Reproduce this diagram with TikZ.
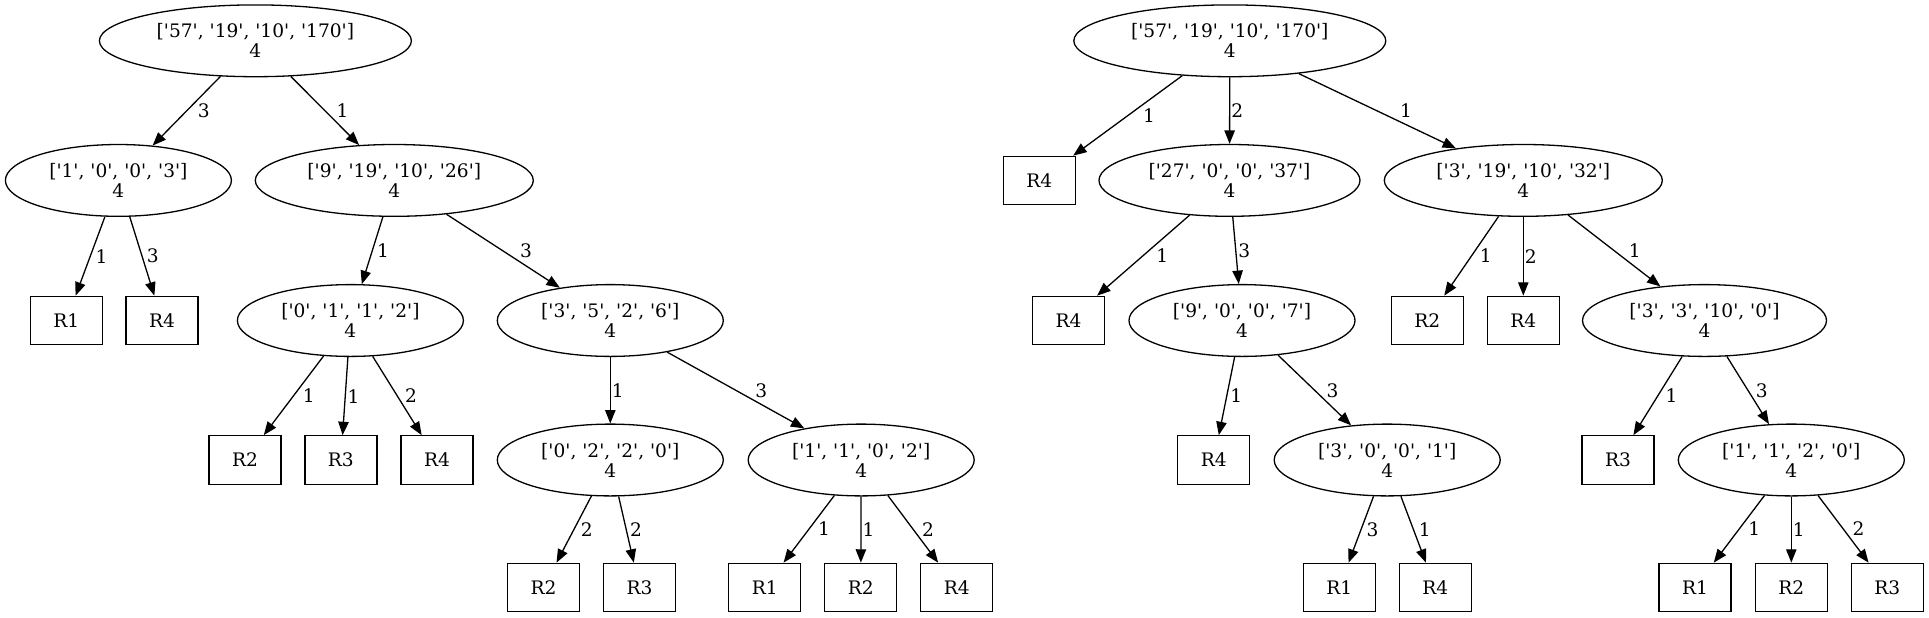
\documentclass[tikz,border=0pt]{standalone}
\usepackage{fontspec}
\setmainfont{DejaVu Serif}[Ligatures=TeXOff]
\usetikzlibrary{shapes.geometric,arrows.meta}
\begin{document}
\begin{tikzpicture}[x=0.5pt,y=-0.5pt,
  every node/.style={font=\fontsize{9.3}{10}\selectfont},
  ell/.style={draw, ellipse, inner sep=0pt, minimum height=35.9pt, align=center, line width=0.65pt},
  leaf/.style={draw, rectangle, inner sep=0pt, minimum width=36pt, minimum height=24.2pt, line width=0.65pt},
  arr/.style={line width=0.65pt, -{Triangle[length=6.7pt,width=5.2pt]}},
  lbl/.style={anchor=west, inner sep=0.5pt}]
\useasboundingbox (0,0) rectangle (1929,617);
% left tree
\node[ell, minimum width=156pt] (a) at (255.4,40.8) {['57', '19', '10', '170']\\4};
\node[ell, minimum width=113pt] (b) at (118.4,180.4) {['1', '0', '0', '3']\\4};
\node[ell, minimum width=139pt] (c) at (394.3,180.4) {['9', '19', '10', '26']\\4};
\node[leaf] (r1a) at (66.4,320.5) {R1};
\node[leaf] (r4a) at (162.1,320.5) {R4};
\node[ell, minimum width=113pt] (d) at (350.4,320.5) {['0', '1', '1', '2']\\4};
\node[ell, minimum width=113pt] (e) at (610.3,320.5) {['3', '5', '2', '6']\\4};
\node[leaf] (r2b) at (245,460) {R2};
\node[leaf] (r3b) at (340.9,460) {R3};
\node[leaf] (r4b) at (437.1,460) {R4};
\node[ell, minimum width=113pt] (f) at (610.3,460) {['0', '2', '2', '0']\\4};
\node[ell, minimum width=113pt] (g) at (861.2,460) {['1', '1', '0', '2']\\4};
\node[leaf] (r2c) at (543.5,587.5) {R2};
\node[leaf] (r3c) at (639.5,587.5) {R3};
\node[leaf] (r1c) at (764.8,587.5) {R1};
\node[leaf] (r2d) at (860.8,587.5) {R2};
\node[leaf] (r4d) at (956.8,587.5) {R4};
% right tree
\node[ell, minimum width=156pt] (a2) at (1229.8,40.8) {['57', '19', '10', '170']\\4};
\node[leaf] (r4e) at (1039.3,180.5) {R4};
\node[ell, minimum width=130.5pt] (h) at (1229.5,180.4) {['27', '0', '0', '37']\\4};
\node[ell, minimum width=139pt] (i) at (1523.3,180.4) {['3', '19', '10', '32']\\4};
\node[leaf] (r4f) at (1068.6,320.5) {R4};
\node[ell, minimum width=113pt] (j) at (1242,320.5) {['9', '0', '0', '7']\\4};
\node[leaf] (r2g) at (1427.2,320.5) {R2};
\node[leaf] (r4g) at (1523.3,320.5) {R4};
\node[ell, minimum width=122pt] (k) at (1704.5,320.5) {['3', '3', '10', '0']\\4};
\node[leaf] (r4h) at (1213.8,460) {R4};
\node[ell, minimum width=113pt] (l) at (1387.2,460) {['3', '0', '0', '1']\\4};
\node[leaf] (r3i) at (1618,460) {R3};
\node[ell, minimum width=113pt] (m) at (1791.3,460) {['1', '1', '2', '0']\\4};
\node[leaf] (r1j) at (1339.2,587.5) {R1};
\node[leaf] (r4j) at (1435.3,587.5) {R4};
\node[leaf] (r1k) at (1695,587.5) {R1};
\node[leaf] (r2k) at (1791.3,587.5) {R2};
\node[leaf] (r3k) at (1887.3,587.5) {R3};
% left edges
\draw[arr] (a) -- node[lbl,xshift=4.9pt]{3} (b);
\draw[arr] (a) -- node[lbl,xshift=5pt]{1} (c);
\draw[arr] (b) -- node[lbl,xshift=1.9pt]{1} (r1a);
\draw[arr] (b) -- node[lbl,xshift=1.6pt]{3} (r4a);
\draw[arr] (c) -- node[lbl,xshift=1.6pt]{1} (d);
\draw[arr] (c) -- node[lbl,xshift=7.7pt]{3} (e);
\draw[arr] (d) -- node[lbl,xshift=3.8pt]{1} (r2b);
\draw[arr] (d) -- node[lbl,xshift=0.4pt]{1} (r3b);
\draw[arr] (d) -- node[lbl,xshift=3.1pt]{2} (r4b);
\draw[arr] (e) -- node[lbl]{1} (f);
\draw[arr] (e) -- node[lbl,xshift=9pt]{3} (g);
\draw[arr] (f) -- node[lbl,xshift=2.6pt]{2} (r2c);
\draw[arr] (f) -- node[lbl,xshift=1.1pt]{2} (r3c);
\draw[arr] (g) -- node[lbl,xshift=3.8pt]{1} (r1c);
\draw[arr] (g) -- node[lbl]{1} (r2d);
\draw[arr] (g) -- node[lbl,xshift=3.75pt]{2} (r4d);
% right edges
\draw[arr] (a2) -- node[lbl,xshift=6.8pt]{1} (r4e);
\draw[arr] (a2) -- node[lbl]{2} (h);
\draw[arr] (a2) -- node[lbl,xshift=10.5pt]{1} (i);
\draw[arr] (h) -- node[lbl,xshift=5.7pt]{1} (r4f);
\draw[arr] (h) -- node[lbl,xshift=0.45pt]{3} (j);
\draw[arr] (i) -- node[lbl,xshift=3.4pt]{1} (r2g);
\draw[arr] (i) -- node[lbl]{2} (r4g);
\draw[arr] (i) -- node[lbl,xshift=6.5pt]{1} (k);
\draw[arr] (j) -- node[lbl,xshift=1pt]{1} (r4h);
\draw[arr] (j) -- node[lbl,xshift=5.2pt]{3} (l);
\draw[arr] (k) -- node[lbl,xshift=3.1pt]{1} (r3i);
\draw[arr] (k) -- node[lbl,xshift=3.1pt]{3} (m);
\draw[arr] (l) -- node[lbl,xshift=1.9pt]{3} (r1j);
\draw[arr] (l) -- node[lbl,xshift=1.9pt]{1} (r4j);
\draw[arr] (m) -- node[lbl,xshift=3.8pt]{1} (r1k);
\draw[arr] (m) -- node[lbl]{1} (r2k);
\draw[arr] (m) -- node[lbl,xshift=3.8pt]{2} (r3k);
\end{tikzpicture}
\end{document}
